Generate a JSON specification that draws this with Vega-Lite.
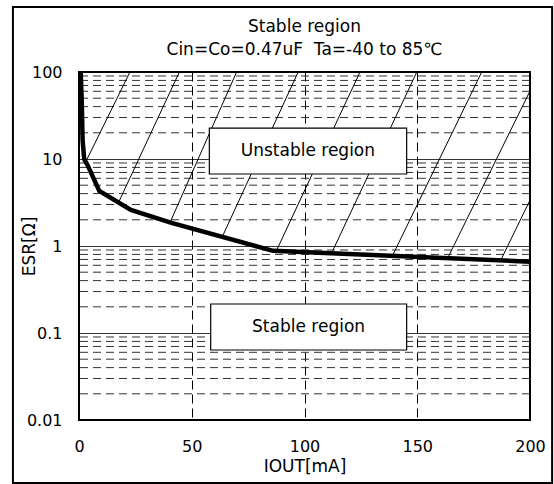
{
  "$schema": "https://vega.github.io/schema/vega-lite/v6.json",
  "width": 451,
  "height": 348,
  "autosize": {"type": "none"},
  "padding": {"left": 79, "top": 72, "right": 24, "bottom": 64},
  "background": "white",
  "config": {
    "font": "DejaVu Sans",
    "view": {"stroke": null},
    "title": {"font": "DejaVu Sans", "fontSize": 17, "fontWeight": "normal", "color": "black", "lineHeight": 23, "anchor": "middle", "offset": -53}
  },
  "title": {"text": ["Stable region", "Cin=Co=0.47uF\u00a0\u00a0Ta=-40 to 85℃"]},
  "datasets": {
    "minor": [
      {"esr": 0.02}, {"esr": 0.03}, {"esr": 0.04}, {"esr": 0.05}, {"esr": 0.06}, {"esr": 0.07}, {"esr": 0.08}, {"esr": 0.09},
      {"esr": 0.2}, {"esr": 0.3}, {"esr": 0.4}, {"esr": 0.5}, {"esr": 0.6}, {"esr": 0.7}, {"esr": 0.8}, {"esr": 0.9},
      {"esr": 2}, {"esr": 3}, {"esr": 4}, {"esr": 5}, {"esr": 6}, {"esr": 7}, {"esr": 8}, {"esr": 9},
      {"esr": 20}, {"esr": 30}, {"esr": 40}, {"esr": 50}, {"esr": 60}, {"esr": 70}, {"esr": 80}, {"esr": 90}
    ],
    "hatch": [
      {"id": 1, "iout": 22.6, "esr": 100}, {"id": 1, "iout": 3.0, "esr": 9.29},
      {"id": 2, "iout": 44.5, "esr": 100}, {"id": 2, "iout": 17.5, "esr": 3.15},
      {"id": 3, "iout": 69.9, "esr": 100}, {"id": 3, "iout": 40.4, "esr": 1.87},
      {"id": 4, "iout": 97.2, "esr": 100}, {"id": 4, "iout": 63.5, "esr": 1.27},
      {"id": 5, "iout": 124.6, "esr": 100}, {"id": 5, "iout": 87.5, "esr": 0.877},
      {"id": 6, "iout": 149.8, "esr": 100}, {"id": 6, "iout": 112.0, "esr": 0.827},
      {"id": 7, "iout": 178.6, "esr": 100}, {"id": 7, "iout": 139.0, "esr": 0.772},
      {"id": 8, "iout": 200, "esr": 60.5}, {"id": 8, "iout": 163.5, "esr": 0.726},
      {"id": 9, "iout": 200, "esr": 3.37}, {"id": 9, "iout": 187.0, "esr": 0.683}
    ],
    "curve": [
      {"iout": 0.75, "esr": 100},
      {"iout": 1.2, "esr": 48},
      {"iout": 1.6, "esr": 16.5},
      {"iout": 2.3, "esr": 10},
      {"iout": 3.8, "esr": 8.5},
      {"iout": 9, "esr": 4.3},
      {"iout": 23, "esr": 2.6},
      {"iout": 41, "esr": 1.84},
      {"iout": 86, "esr": 0.88},
      {"iout": 200, "esr": 0.66}
    ],
    "boxes": [
      {"label": "Unstable region", "x1": 57.8, "x2": 145.3, "y1": 6.72, "y2": 22.7, "xc": 101.5, "yc": 12.36},
      {"label": "Stable region", "x1": 58.4, "x2": 145.3, "y1": 0.0638, "y2": 0.2154, "xc": 101.8, "yc": 0.117}
    ]
  },
  "layer": [
    {
      "data": {"name": "minor"},
      "mark": {"type": "rule", "color": "#333333", "strokeWidth": 1, "strokeDash": [8, 5]},
      "encoding": {
        "y": {
          "field": "esr", "type": "quantitative", "title": "ESR[Ω]",
          "scale": {"type": "log", "domain": [0.01, 100], "nice": false},
          "axis": {
            "values": [0.01, 0.1, 1, 10, 100], "format": "~g",
            "grid": true, "gridColor": "#000000", "gridWidth": 0.8, "gridOpacity": 1,
            "ticks": false, "domain": false,
            "labelFont": "DejaVu Sans", "labelFontSize": 16, "labelColor": "black", "labelPadding": 17,
            "titleFont": "DejaVu Sans", "titleFontSize": 17, "titleFontWeight": "normal", "titleColor": "black", "titlePadding": -12
          }
        }
      }
    },
    {
      "data": {"name": "hatch"},
      "mark": {"type": "line", "color": "black", "strokeWidth": 1},
      "encoding": {
        "x": {
          "field": "iout", "type": "quantitative", "title": "IOUT[mA]",
          "scale": {"domain": [0, 200], "nice": false},
          "axis": {
            "values": [0, 50, 100, 150, 200],
            "grid": true, "gridColor": "#000000", "gridWidth": 1, "gridOpacity": 1, "gridDash": [9, 5],
            "ticks": false, "domain": false, "labelFlush": false,
            "labelFont": "DejaVu Sans", "labelFontSize": 16, "labelColor": "black", "labelPadding": 18,
            "titleFont": "DejaVu Sans", "titleFontSize": 17, "titleFontWeight": "normal", "titleColor": "black", "titlePadding": 4
          }
        },
        "y": {"field": "esr", "type": "quantitative", "title": "ESR[Ω]", "scale": {"type": "log", "domain": [0.01, 100], "nice": false}},
        "detail": {"field": "id"}
      }
    },
    {
      "data": {"name": "curve"},
      "mark": {"type": "line", "color": "black", "strokeWidth": 4.5},
      "encoding": {
        "x": {"field": "iout", "type": "quantitative", "title": "IOUT[mA]", "scale": {"domain": [0, 200], "nice": false}},
        "y": {"field": "esr", "type": "quantitative", "title": "ESR[Ω]", "scale": {"type": "log", "domain": [0.01, 100], "nice": false}}
      }
    },
    {
      "data": {"name": "boxes"},
      "mark": {"type": "rect", "fill": "white", "stroke": "black", "strokeWidth": 1.2},
      "encoding": {
        "x": {"field": "x1", "type": "quantitative", "title": "IOUT[mA]", "scale": {"domain": [0, 200], "nice": false}},
        "x2": {"field": "x2"},
        "y": {"field": "y1", "type": "quantitative", "title": "ESR[Ω]", "scale": {"type": "log", "domain": [0.01, 100], "nice": false}},
        "y2": {"field": "y2"}
      }
    },
    {
      "data": {"name": "boxes"},
      "mark": {"type": "text", "font": "DejaVu Sans", "fontSize": 17, "color": "black", "align": "center", "baseline": "middle"},
      "encoding": {
        "x": {"field": "xc", "type": "quantitative", "title": "IOUT[mA]", "scale": {"domain": [0, 200], "nice": false}},
        "y": {"field": "yc", "type": "quantitative", "title": "ESR[Ω]", "scale": {"type": "log", "domain": [0.01, 100], "nice": false}},
        "text": {"field": "label"}
      }
    },
    {
      "data": {"values": [{}]},
      "mark": {"type": "rect", "fillOpacity": 0, "stroke": "black", "strokeWidth": 2},
      "encoding": {
        "x": {"datum": 0, "type": "quantitative", "title": "IOUT[mA]", "scale": {"domain": [0, 200], "nice": false}},
        "x2": {"datum": 200},
        "y": {"datum": 0.01, "type": "quantitative", "title": "ESR[Ω]", "scale": {"type": "log", "domain": [0.01, 100], "nice": false}},
        "y2": {"datum": 100}
      }
    },
    {
      "data": {"values": [{}]},
      "mark": {"type": "rect", "fillOpacity": 0, "stroke": "black", "strokeWidth": 2, "clip": false},
      "encoding": {
        "x": {"datum": -29.3, "type": "quantitative", "title": "IOUT[mA]", "scale": {"domain": [0, 200], "nice": false}},
        "x2": {"datum": 209.8},
        "y": {"datum": 0.00189, "type": "quantitative", "title": "ESR[Ω]", "scale": {"type": "log", "domain": [0.01, 100], "nice": false}},
        "y2": {"datum": 558}
      }
    }
  ]
}
